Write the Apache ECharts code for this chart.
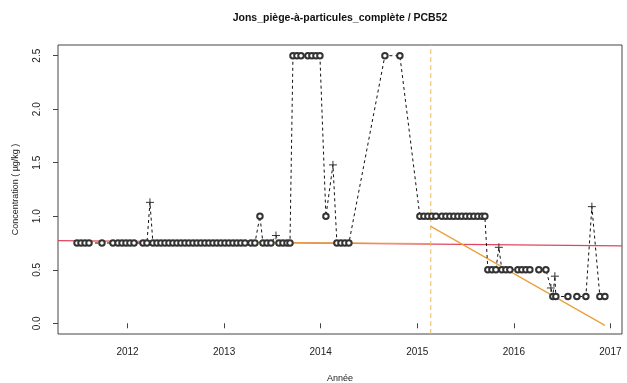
<!DOCTYPE html>
<html><head><meta charset="utf-8">
<script src="https://cdn.jsdelivr.net/npm/echarts@6/dist/echarts.min.js"></script>
<style>html,body{margin:0;padding:0;background:#fff}#c{width:627px;height:383px}</style>
</head><body><div id="c"></div>
<script>
// ---- data ----
const years = [
 2011.477,2011.518,2011.560,2011.601,2011.735,2011.849,2011.901,2011.943,2011.984,2012.025,2012.067,
 2012.160,2012.201,2012.232,2012.263,
 2012.305,2012.346,2012.388,2012.429,2012.470,2012.512,2012.553,2012.595,2012.636,2012.678,2012.719,
 2012.760,2012.802,2012.843,2012.885,2012.926,2012.967,2013.009,2013.050,2013.092,2013.133,2013.174,2013.216,
 2013.278,2013.319,2013.371,2013.402,2013.444,2013.485,2013.537,2013.568,2013.609,2013.651,2013.682,
 2013.713,2013.754,2013.796,2013.868,2013.909,2013.951,2013.992,2014.054,2014.127,
 2014.168,2014.210,2014.251,2014.292,
 2014.665,2014.820,
 2015.027,2015.069,2015.110,2015.152,2015.193,
 2015.255,2015.297,2015.338,2015.379,2015.421,2015.462,2015.504,2015.545,2015.586,2015.628,2015.669,2015.700,
 2015.731,2015.773,2015.814,2015.845,2015.876,2015.918,2015.959,
 2016.042,2016.083,2016.125,2016.166,2016.259,2016.332,
 2016.384,2016.404,2016.425,2016.435,
 2016.560,2016.653,2016.746,2016.808,2016.891,2016.943
];
const values = [
 0.75,0.75,0.75,0.75,0.75,0.75,0.75,0.75,0.75,0.75,0.75,
 0.75,0.75,1.13,0.75,
 0.75,0.75,0.75,0.75,0.75,0.75,0.75,0.75,0.75,0.75,0.75,
 0.75,0.75,0.75,0.75,0.75,0.75,0.75,0.75,0.75,0.75,0.75,0.75,
 0.75,0.75,1.00,0.75,0.75,0.75,0.82,0.75,0.75,0.75,0.75,
 2.50,2.50,2.50,2.50,2.50,2.50,2.50,1.00,1.48,
 0.75,0.75,0.75,0.75,
 2.50,2.50,
 1.00,1.00,1.00,1.00,1.00,
 1.00,1.00,1.00,1.00,1.00,1.00,1.00,1.00,1.00,1.00,1.00,1.00,
 0.50,0.50,0.50,0.71,0.50,0.50,0.50,
 0.50,0.50,0.50,0.50,0.50,0.50,
 0.33,0.25,0.44,0.25,
 0.25,0.25,0.25,1.09,0.25,0.25
];
const marks = [
 'o','o','o','o','o','o','o','o','o','o','o',
 'o','o','+','o',
 'o','o','o','o','o','o','o','o','o','o','o',
 'o','o','o','o','o','o','o','o','o','o','o','o',
 'o','o','o','o','o','o','+','o','o','o','o',
 'o','o','o','o','o','o','o','o','+',
 'o','o','o','o',
 'o','o',
 'o','o','o','o','o',
 'o','o','o','o','o','o','o','o','o','o','o','o',
 'o','o','o','+','o','o','o',
 'o','o','o','o','o','o',
 '+','o','+','o',
 'o','o','o','+','o','o'
];
const xTicks = [2012, 2013, 2014, 2015, 2016, 2017];
const yTicks = [0, 0.5, 1, 1.5, 2, 2.5];
const trendAll = [[2011.28, 0.772], [2017.12, 0.724]];
const trendBefore = [[2011.477, 0.765], [2015.14, 0.745]];
const trendAfter = [[2015.14, 0.905], [2016.943, -0.02]];
const breakYear = 2015.14;

const PLUS = 'path://M0,-1L0,1M-1,0L1,0';
const seriesData = years.map((y, i) => {
  const isPlus = marks[i] === '+';
  return {
    value: [y, values[i]],
    symbol: isPlus ? PLUS : 'emptyCircle',
    symbolSize: isPlus ? 8 : 5.5,
    itemStyle: isPlus ? {color: 'none', borderColor: '#333', borderWidth: 1}
                      : {color: '#333', borderWidth: 0.7}
  };
});

const F = 'Liberation Sans, Arial, sans-serif';
const chart = echarts.init(document.getElementById('c'), null, {renderer: 'canvas'});
chart.setOption({
  animation: false,
  backgroundColor: '#fff',
  grid: {left: 58, top: 45, right: 5, bottom: 49, containLabel: false, outerBoundsMode: 'none',
         show: true, borderColor: '#444', borderWidth: 1, backgroundColor: 'transparent'},
  graphic: [{
    type: 'text', x: 340, y: 18,
    style: {text: 'Jons_piège-à-particules_complète / PCB52', font: 'bold 10.5px ' + F, fill: '#111', align: 'center', verticalAlign: 'middle'}
  }],
  xAxis: {
    type: 'value', min: 2011.28, max: 2017.12,
    name: 'Année', nameLocation: 'middle', nameGap: 40,
    nameTextStyle: {fontFamily: F, fontSize: 9, color: '#222'},
    axisLine: {show: false},
    axisTick: {show: true, inside: false, length: 5, lineStyle: {color: '#444'}, customValues: xTicks},
    axisLabel: {fontFamily: F, fontSize: 10, color: '#222', margin: 13, customValues: xTicks, formatter: v => String(v)},
    splitLine: {show: false}
  },
  yAxis: {
    type: 'value', min: -0.1, max: 2.6,
    name: 'Concentration ( µg/kg )', nameLocation: 'middle', nameGap: 38,
    nameTextStyle: {fontFamily: F, fontSize: 9, color: '#222'},
    axisLine: {show: false},
    axisTick: {show: true, inside: false, length: 5, lineStyle: {color: '#444'}, customValues: yTicks},
    axisLabel: {fontFamily: F, fontSize: 10, color: '#222', rotate: 90, margin: 16, customValues: yTicks, formatter: v => v.toFixed(1)},
    splitLine: {show: false}
  },
  series: [
    {type: 'line', data: trendAll, symbol: 'none', lineStyle: {color: '#e0455e', width: 1.3}, z: 1, silent: true},
    {type: 'line', data: trendBefore, symbol: 'none', lineStyle: {color: '#e9a23b', width: 1.3}, z: 2, silent: true},
    {type: 'line', data: trendAfter, symbol: 'none', lineStyle: {color: '#e9a23b', width: 1.3}, z: 2, silent: true},
    {type: 'line', data: [[breakYear, -0.1], [breakYear, 2.6]], symbol: 'none', lineStyle: {color: '#f2b960', width: 1, type: [5, 3]}, z: 2, silent: true},
    {type: 'line', data: seriesData, showSymbol: true, showAllSymbol: true, lineStyle: {color: '#111', width: 1, type: [3, 3]}, z: 3}
  ]
});
</script></body></html>
